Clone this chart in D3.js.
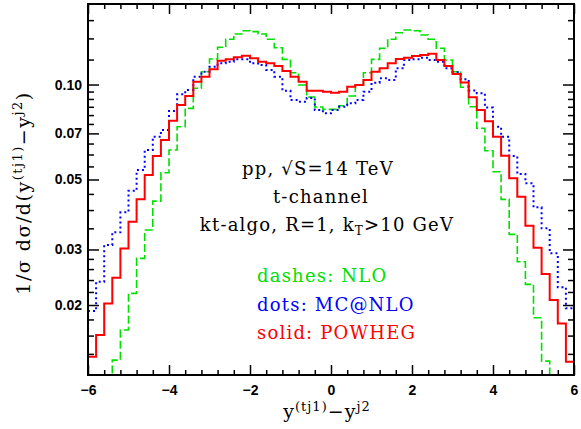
<!DOCTYPE html>
<html><head><meta charset="utf-8">
<script src="https://cdn.jsdelivr.net/npm/d3@7"></script>
<style>body{margin:0;background:#fff}</style>
</head><body><svg id="c" width="581" height="429"></svg>
<script>
// bin left edges (width 0.2) from -6 to 6
const binEdges = d3.range(60).map(i => -6 + i * 0.2);
const binWidth = 0.2;
const nlo = [0.0105,0.0105,0.0105,0.01338,0.01666,0.02178,0.02812,0.03457,0.04271,0.05253,
  0.06198,0.07350,0.08404,0.09729,0.10982,0.12044,0.13121,0.13915,0.14463,0.14814,
  0.14708,0.14463,0.13915,0.13082,0.12019,0.10901,0.09968,0.09130,0.08483,0.08342,
  0.08342,0.08566,0.09198,0.09968,0.10901,0.12019,0.13025,0.13915,0.14597,0.14892,
  0.14814,0.14357,0.13915,0.13025,0.11956,0.10982,0.09801,0.08503,0.07264,0.06167,
  0.05291,0.04325,0.03350,0.02743,0.02326,0.01822,0.01328,0.0105,0.0105,0.0105];
const mcatnlo = [0.01914,0.02370,0.03099,0.03399,0.03934,0.04605,0.05358,0.06198,0.06833,0.07174,
  0.08239,0.09313,0.09609,0.10589,0.10982,0.11389,0.11675,0.11811,0.12019,0.12019,
  0.11675,0.11531,0.11117,0.10589,0.09561,0.08932,0.08822,0.09063,0.08300,0.08103,
  0.08300,0.08503,0.08721,0.08932,0.09491,0.10135,0.10460,0.10334,0.11256,0.11956,
  0.12019,0.12158,0.11956,0.11811,0.11256,0.10957,0.10386,0.09574,0.09382,0.08452,
  0.07350,0.06833,0.05934,0.05203,0.04862,0.04080,0.03500,0.02917,0.02276,0.01952];
const powheg = [0.01371,0.01606,0.02024,0.02441,0.03024,0.03673,0.04325,0.05165,0.05934,0.06670,
  0.07678,0.08609,0.09198,0.10209,0.10589,0.11176,0.11895,0.12019,0.12195,0.12339,
  0.12105,0.11811,0.11675,0.11447,0.11038,0.10589,0.10209,0.09561,0.09561,0.09491,
  0.09423,0.09491,0.09844,0.09968,0.10334,0.10982,0.11256,0.11675,0.12044,0.12158,
  0.12310,0.12402,0.12519,0.11956,0.11447,0.10799,0.10150,0.09111,0.08300,0.07650,
  0.06833,0.05947,0.05043,0.04408,0.03567,0.03038,0.02507,0.02074,0.01749,0.01322];
const xMajor = [-6,-4,-2,0,2,4,6];
const xMajorLabels = ["\u22126","\u22124","\u22122","0","2","4","6"];
const xMinor = [-5.6,-5.2,-4.8,-4.4,-3.6,-3.2,-2.8,-2.4,-1.6,-1.2,-0.8,-0.4,0.4,0.8,1.2,1.6,2.4,2.8,3.2,3.6,4.4,4.8,5.2,5.6];
const yMajor = [0.02,0.03,0.05,0.07,0.10];
const yMajorLabels = ["0.02","0.03","0.05","0.07","0.10"];
const yMinor = [0.014,0.016,0.018,0.022,0.024,0.026,0.028,0.035,0.04,0.045,0.055,0.06,0.065,0.075,0.08,0.085,0.09,0.095,0.12,0.14,0.16];
const infoLines = ["pp, \u221AS=14 TeV","t-channel"];
const legendLabels = ["dashes: NLO","dots: MC@NLO","solid: POWHEG"];
const colors = ["#00e000","#0000ff","#ff0000"];

const L=88,R=574,T=4,B=375;
const svg = d3.select("#c");
const x = d3.scaleLinear().domain([-6,6]).range([L,R]);
const y = d3.scaleLog().domain([0.012,0.18]).range([B,T]);

svg.append("defs").append("clipPath").attr("id","clip")
  .append("rect").attr("x",L).attr("y",T).attr("width",R-L).attr("height",B-T);

function styleAxis(g){ g.select(".domain").remove(); g.selectAll("line").attr("stroke","#000").attr("stroke-width",1.5);
  g.selectAll("text").attr("font-family","Liberation Sans, Arial, sans-serif").attr("font-weight","bold").attr("font-size",14).attr("fill","#000"); }
// bottom
svg.append("g").attr("transform",`translate(0,${B})`).call(d3.axisBottom(x).tickValues(xMajor).tickSize(-10).tickPadding(10).tickFormat((d,i)=>xMajorLabels[i])).call(styleAxis);
svg.append("g").attr("transform",`translate(0,${B})`).call(d3.axisBottom(x).tickValues(xMinor).tickSize(-5).tickFormat("")).call(styleAxis);
// top
svg.append("g").attr("transform",`translate(0,${T})`).call(d3.axisTop(x).tickValues(xMajor).tickSize(-10).tickFormat("")).call(styleAxis);
svg.append("g").attr("transform",`translate(0,${T})`).call(d3.axisTop(x).tickValues(xMinor).tickSize(-5).tickFormat("")).call(styleAxis);
// left
svg.append("g").attr("transform",`translate(${L},0)`).call(d3.axisLeft(y).tickValues(yMajor).tickSize(-11).tickPadding(6).tickFormat((d,i)=>yMajorLabels[i])).call(styleAxis);
svg.append("g").attr("transform",`translate(${L},0)`).call(d3.axisLeft(y).tickValues(yMinor).tickSize(-6).tickFormat("")).call(styleAxis);
// right
svg.append("g").attr("transform",`translate(${R},0)`).call(d3.axisRight(y).tickValues(yMajor).tickSize(-11).tickFormat("")).call(styleAxis);
svg.append("g").attr("transform",`translate(${R},0)`).call(d3.axisRight(y).tickValues(yMinor).tickSize(-6).tickFormat("")).call(styleAxis);

const line = d3.line().x(d=>x(d[0])).y(d=>y(d[1])).curve(d3.curveStepAfter);
function pts(vals){ const p = binEdges.map((e,i)=>[e,vals[i]]); p.push([binEdges[59]+binWidth, vals[59]]); return p; }
const series = [
  {vals:nlo, color:colors[0], dash:"8,3", w:1.6},
  {vals:mcatnlo, color:colors[1], dash:"2,3", w:2},
  {vals:powheg, color:colors[2], dash:null, w:2}
];
const pg = svg.append("g").attr("clip-path","url(#clip)");
series.forEach(s=>{
  pg.append("path").attr("d",line(pts(s.vals))).attr("fill","none").attr("stroke",s.color)
    .attr("stroke-width",s.w).attr("stroke-dasharray",s.dash);
});

svg.append("rect").attr("x",L).attr("y",T).attr("width",R-L).attr("height",B-T).attr("fill","none").attr("stroke","#000").attr("stroke-width",2);

const serif = "DejaVu Serif, serif";
const tf = {"font-family":serif,"font-size":18,"letter-spacing":"1.2px"};
function applyF(sel,o){ for(const k in o) sel.attr(k,o[k]); return sel; }
applyF(svg.append("text").attr("x",318).attr("y",175).attr("text-anchor","middle").text(infoLines[0]),tf);
applyF(svg.append("text").attr("x",321).attr("y",203).attr("text-anchor","middle").text(infoLines[1]),tf);
const t3 = applyF(svg.append("text").attr("x",327).attr("y",231).attr("text-anchor","middle"),tf);
t3.append("tspan").text("kt-algo, R=1, k");
t3.append("tspan").attr("font-size",12).attr("dy",4).text("T");
t3.append("tspan").attr("dy",-4).text(">10 GeV");
legendLabels.forEach((t,i)=>{
  applyF(svg.append("text").attr("x",257).attr("y",282+i*28.7).attr("fill",colors[i]).text(t),tf);
});

// y title
const yt = svg.append("text").attr("transform","translate(30,193) rotate(-90)").attr("text-anchor","middle")
  .attr("font-family",serif).attr("font-size",19).attr("letter-spacing","1.5px");
yt.append("tspan").text("1/\u03C3 d\u03C3/d(y");
yt.append("tspan").attr("font-size",13).attr("dy",-8).text("(tj1)");
yt.append("tspan").attr("dy",8).text("\u2212y");
yt.append("tspan").attr("font-size",13).attr("dy",-8).text("j2");
yt.append("tspan").attr("dy",8).text(")");
// x title
const xt = svg.append("text").attr("x",327).attr("y",418).attr("text-anchor","middle")
  .attr("font-family",serif).attr("font-size",19).attr("letter-spacing","1px");
xt.append("tspan").text("y");
xt.append("tspan").attr("font-size",13).attr("dy",-7).text("(tj1)");
xt.append("tspan").attr("dy",7).text("\u2212y");
xt.append("tspan").attr("font-size",13).attr("dy",-7).text("j2");
</script></body></html>
